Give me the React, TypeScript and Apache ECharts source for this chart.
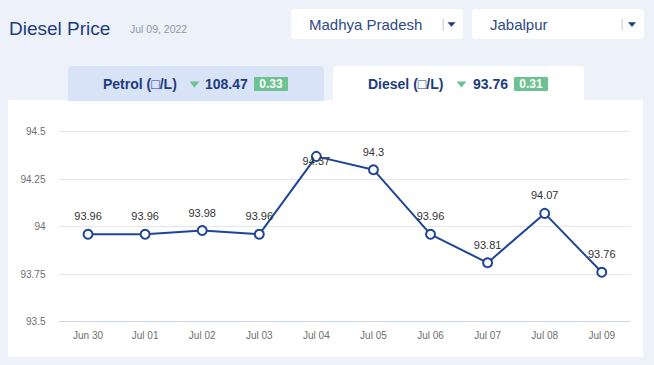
import React, { useEffect, useRef } from "react";
import * as echarts from "echarts";

const categories = ["Jun 30", "Jul 01", "Jul 02", "Jul 03", "Jul 04", "Jul 05", "Jul 06", "Jul 07", "Jul 08", "Jul 09"];
const dieselPrices = [93.96, 93.96, 93.98, 93.96, 94.37, 94.3, 93.96, 93.81, 94.07, 93.76];
const yMin = 93.5;
const yMax = 94.5;
const yInterval = 0.25;

const titleText = "Diesel Price";
const dateText = "Jul 09, 2022";
const stateText = "Madhya Pradesh";
const cityText = "Jabalpur";
const petrolLabel = "Petrol (□/L)";
const petrolValue = "108.47";
const petrolChange = "0.33";
const dieselLabel = "Diesel (□/L)";
const dieselValue = "93.76";
const dieselChange = "0.31";

const FONT = "'Liberation Sans', Arial, sans-serif";
const NAVY = "#1d3c7d";
const GREEN = "#6cc290";

function txt(x: number, y: number, text: string, size: number, fill: string, weight = "normal", align = "left") {
  return {
    type: "text",
    z: 10,
    style: {
      x,
      y,
      text,
      fill,
      font: `${weight} ${size}px ${FONT}`,
      textAlign: align,
      textVerticalAlign: "middle",
    },
  };
}

function tri(cx: number, cy: number, w: number, h: number, fill: string) {
  return {
    type: "polygon",
    z: 10,
    shape: { points: [[cx - w / 2, cy - h / 2], [cx + w / 2, cy - h / 2], [cx, cy + h / 2]] },
    style: { fill },
  };
}

function rect(x: number, y: number, w: number, h: number, fill: string, r: number | number[] = 0, z = -5) {
  return { type: "rect", z, shape: { x, y, width: w, height: h, r }, style: { fill } };
}

export default function App() {
  const ref = useRef<HTMLDivElement>(null);
  useEffect(() => {
    if (!ref.current) return;
    const chart = echarts.init(ref.current, null, { renderer: "svg" });
    const maxVal = Math.max(...dieselPrices);
    const seriesData = dieselPrices.map((v) =>
      v === maxVal ? { value: v, label: { position: "inside", offset: [0, 5] } } : v
    );
    chart.setOption({
      animation: false,
      backgroundColor: "#edf1fa",
      graphic: {
        elements: [
          rect(8, 100, 635, 257, "#ffffff", 0, -6),
          rect(68, 66, 256, 35, "#d9e3f7", [4, 4, 0, 0], -5),
          rect(333, 66, 251, 35, "#ffffff", [4, 4, 0, 0], -5),
          rect(291, 9, 172, 30, "#ffffff", 4, -5),
          rect(472, 9, 172, 30, "#ffffff", 4, -5),
          txt(9, 28.5, titleText, 19, NAVY),
          txt(130, 29, dateText, 10.5, "#8e99aa"),
          txt(309, 24.5, stateText, 15, "#2c4a87"),
          txt(443, 24, "|", 12, "#c8cdd6", "normal", "center"),
          tri(451.5, 24.5, 8, 4.5, NAVY),
          txt(490, 24.5, cityText, 15, "#2c4a87"),
          txt(622, 24, "|", 12, "#c8cdd6", "normal", "center"),
          tri(632, 24.5, 8, 4.5, NAVY),
          txt(103, 84, petrolLabel, 14, NAVY, "bold"),
          tri(194.5, 84.5, 10, 6, GREEN),
          txt(205, 84, petrolValue, 14, NAVY, "bold"),
          rect(254, 77, 34, 14, GREEN, 1, 9),
          txt(271, 84, petrolChange, 12, "#ffffff", "bold", "center"),
          txt(368, 84, dieselLabel, 14, NAVY, "bold"),
          tri(461.5, 84.5, 10, 6, GREEN),
          txt(473, 84, dieselValue, 14, NAVY, "bold"),
          rect(514, 77, 34, 14, GREEN, 1, 9),
          txt(531, 84, dieselChange, 12, "#ffffff", "bold", "center"),
        ],
      },
      grid: { left: 59.5, right: 23.7, top: 131.7, bottom: 43.3, containLabel: false },
      xAxis: {
        type: "category",
        data: categories,
        boundaryGap: true,
        axisLine: { show: true, lineStyle: { color: "#ccd6eb", width: 1 } },
        axisTick: { show: false },
        axisLabel: { color: "#6e6e6e", fontSize: 10, fontFamily: FONT, margin: 9 },
        splitLine: { show: false },
      },
      yAxis: {
        type: "value",
        min: yMin,
        max: yMax,
        interval: yInterval,
        axisLine: { show: false },
        axisTick: { show: false },
        axisLabel: { color: "#6e6e6e", fontSize: 10, fontFamily: FONT, margin: 14 },
        splitLine: { show: true, lineStyle: { color: "#e6e6e6", width: 1 } },
      },
      series: [
        {
          type: "line",
          data: seriesData,
          symbol: "circle",
          symbolSize: 9,
          showAllSymbol: true,
          lineStyle: { color: "#1e4596", width: 2 },
          itemStyle: { color: "#ffffff", borderColor: "#1e4596", borderWidth: 2 },
          label: {
            show: true,
            position: "top",
            distance: 7,
            color: "#333333",
            fontSize: 11,
            fontFamily: FONT,
          },
          z: 5,
        },
      ],
    });
    return () => chart.dispose();
  }, []);
  return <div ref={ref} style={{ position: "fixed", left: 0, top: 0, width: 654, height: 365 }} />;
}
